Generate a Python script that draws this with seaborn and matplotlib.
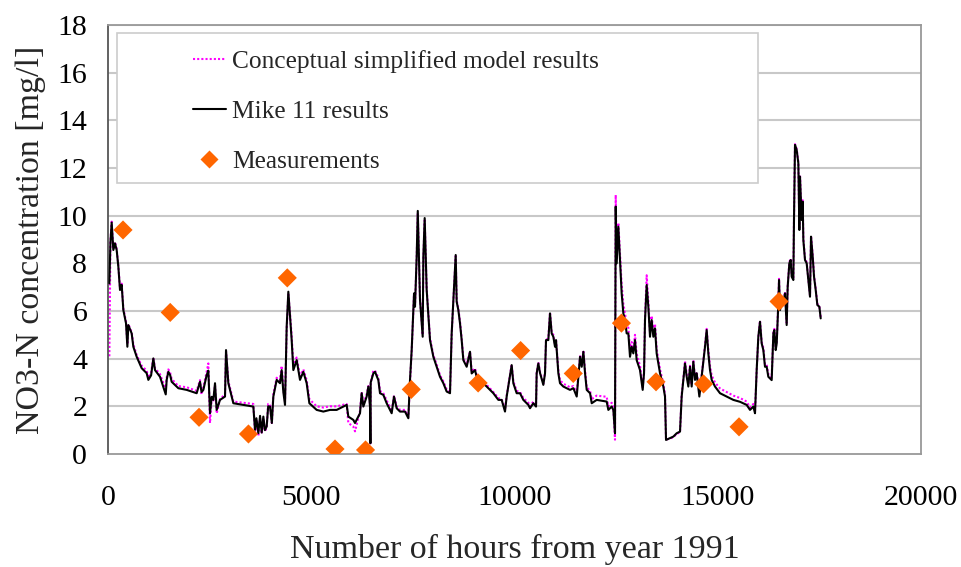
import numpy as np
import pandas as pd
import seaborn as sns
import matplotlib.pyplot as plt
from matplotlib.patches import Rectangle
from matplotlib.lines import Line2D

# hours from start of 1991
hours = [
    33, 60, 90, 131, 172, 213, 254, 295, 336, 377, 443, 476, 500, 582, 623, 705, 828, 951, 992, 1060,
    1115, 1156, 1279, 1420, 1443, 1484, 1530, 1566, 1730, 1935, 2181, 2263, 2300, 2345, 2427, 2468, 2509, 2550, 2591, 2632,
    2673, 2755, 2878, 2903, 2960, 3042, 3083, 3329, 3575, 3616, 3650, 3698, 3740, 3780, 3821, 3860, 3903, 3940, 3985, 4030,
    4067, 4149, 4231, 4272, 4313, 4354, 4395, 4436, 4477, 4518, 4559, 4641, 4723, 4805, 4887, 4953, 5133, 5297, 5461, 5625,
    5871, 5912, 6035, 6076, 6199, 6240, 6281, 6363, 6404, 6445, 6455, 6462, 6527, 6568, 6650, 6691, 6773, 6855, 6978, 7035,
    7101, 7183, 7306, 7388, 7429, 7470, 7528, 7552, 7593, 7620, 7675, 7741, 7757, 7790, 7839, 7921, 8003, 8085, 8167, 8249,
    8331, 8413, 8454, 8495, 8553, 8577, 8618, 8659, 8700, 8741, 8823, 8905, 8946, 9028, 9069, 9151, 9315, 9479, 9602, 9684,
    9766, 9807, 9930, 9971, 10053, 10135, 10217, 10340, 10381, 10463, 10529, 10545, 10586, 10627, 10709, 10750, 10775, 10832, 10873, 10914,
    10955, 10996, 11021, 11078, 11119, 11201, 11365, 11448, 11530, 11612, 11653, 11694, 11735, 11776, 11858, 11899, 12021, 12267, 12308, 12390,
    12431, 12472, 12489, 12513, 12554, 12595, 12636, 12677, 12718, 12759, 12800, 12841, 12882, 12923, 12964, 13005, 13087, 13153, 13186, 13210,
    13251, 13292, 13333, 13374, 13415, 13456, 13497, 13579, 13661, 13702, 13727, 13907, 13989, 14071, 14112, 14153, 14194, 14235, 14276, 14317,
    14358, 14399, 14440, 14481, 14547, 14604, 14645, 14686, 14727, 14768, 14809, 14850, 14932, 15055, 15219, 15383, 15547, 15711, 15793, 15875,
    15916, 15957, 15998, 16039, 16080, 16121, 16162, 16203, 16244, 16326, 16368, 16392, 16425, 16450, 16490, 16507, 16531, 16572, 16613, 16654,
    16695, 16720, 16761, 16794, 16818, 16859, 16876, 16900, 16941, 16982, 17007, 17023, 17064, 17089, 17105, 17146, 17187, 17228, 17269, 17294,
    17335, 17368, 17409, 17450, 17499, 17532,
]

mike11 = [
    7.16, 8.9, 9.71, 8.56, 8.84, 8.56, 7.86, 6.88, 7.1, 6.04, 5.48, 4.5, 5.41, 5.06, 4.5, 4.08, 3.6, 3.39, 3.11, 3.3,
    4.01, 3.52, 3.24, 2.5, 3.11, 3.45, 3.3, 3.03, 2.76, 2.69, 2.55, 3.03, 2.6, 2.69, 3.31, 3.5, 1.71, 2.4, 2.27, 2.97,
    1.85, 2.27, 2.41, 4.36, 2.97, 2.41, 2.13, 2.06, 1.99, 1.01, 1.5, 0.87, 1.6, 0.9, 1.57, 1.0, 1.15, 2.0, 1.99, 1.3,
    2.41, 3.11, 2.97, 3.52, 2.6, 2.06, 5.34, 6.81, 5.76, 4.78, 3.52, 3.94, 3.11, 3.45, 2.97, 2.13, 1.85, 1.78, 1.85, 1.85,
    2.06, 1.57, 1.43, 1.3, 1.71, 2.55, 1.99, 2.41, 2.83, 1.99, 0.45, 3.0, 3.38, 3.45, 3.1, 2.55, 2.48, 2.13, 1.71, 2.41,
    1.92, 1.78, 1.78, 1.5, 3.11, 4.36, 6.74, 6.18, 8.28, 10.2, 6.46, 4.92, 8.28, 9.9, 6.88, 4.78, 4.08, 3.66, 3.24, 2.97,
    2.62, 2.55, 5.06, 6.39, 8.35, 6.39, 6.04, 5.48, 4.78, 3.94, 3.66, 4.29, 3.38, 3.52, 3.24, 3.1, 2.83, 2.55, 2.27, 2.27,
    1.78, 2.41, 3.73, 2.97, 2.55, 2.55, 2.27, 2.06, 1.92, 2.13, 1.99, 3.38, 3.8, 3.4, 2.9, 3.38, 4.78, 4.78, 5.9, 5.06,
    4.92, 4.5, 4.78, 3.39, 2.97, 2.83, 2.69, 2.76, 2.41, 4.08, 3.66, 4.29, 3.39, 2.69, 2.55, 2.13, 2.27, 2.2, 1.85, 1.99,
    1.85, 0.87, 10.38, 8.0, 9.54, 8.14, 6.74, 5.9, 5.62, 5.06, 5.06, 4.08, 4.5, 4.22, 4.78, 3.94, 3.52, 2.69, 3.39, 5.62,
    7.09, 6.18, 4.92, 5.62, 4.92, 5.27, 4.22, 3.39, 2.83, 2.41, 0.59, 0.73, 0.87, 0.94, 2.41, 3.1, 3.8, 3.25, 2.83, 3.66,
    2.83, 3.87, 3.11, 3.39, 2.41, 3.25, 3.87, 4.5, 5.2, 4.22, 3.52, 3.11, 2.83, 2.55, 2.41, 2.27, 2.19, 2.06, 1.85, 1.99,
    1.71, 3.52, 4.92, 5.55, 4.64, 4.36, 3.66, 3.66, 3.24, 3.1, 5.06, 5.2, 4.36, 4.64, 6.32, 7.3, 6.04, 6.46, 6.32, 6.74,
    5.41, 7.02, 8.0, 8.14, 7.44, 7.3, 9.96, 12.97, 12.76, 12.2, 9.4, 11.64, 9.82, 10.59, 8.98, 8.14, 8.0, 7.3, 6.6, 9.12,
    8.28, 7.44, 6.88, 6.25, 6.18, 5.69,
]

conceptual = [
    4.1, 8.9, 9.75, 8.6, 8.9, 8.6, 7.9, 6.95, 7.15, 6.1, 5.55, 4.6, 5.45, 5.1, 4.6, 4.15, 3.7, 3.5, 3.2, 3.4,
    4.05, 3.6, 3.35, 2.7, 3.2, 3.55, 3.4, 3.15, 2.85, 2.8, 2.65, 3.1, 2.5, 2.8, 3.45, 3.8, 1.3, 2.3, 2.2, 2.9,
    1.7, 2.3, 2.5, 4.3, 3.05, 2.5, 2.2, 2.15, 2.1, 0.9, 1.4, 0.75, 1.5, 0.85, 1.5, 0.95, 1.1, 2.1, 2.05, 1.3,
    2.5, 3.2, 3.1, 3.7, 2.75, 2.2, 5.2, 6.7, 5.9, 4.95, 3.7, 4.05, 3.25, 3.55, 3.1, 2.3, 2.0, 1.95, 2.0, 2.0,
    2.1, 1.3, 1.15, 0.95, 1.8, 2.6, 2.1, 2.5, 2.85, 2.1, 0.45, 3.0, 3.5, 3.5, 3.2, 2.65, 2.55, 2.25, 1.8, 2.45,
    2.0, 1.85, 1.85, 1.55, 3.0, 4.3, 6.7, 6.25, 8.2, 10.1, 6.55, 5.0, 8.2, 9.8, 6.95, 4.85, 4.15, 3.75, 3.3, 3.05,
    2.7, 2.6, 5.0, 6.45, 8.3, 6.45, 6.1, 5.55, 4.85, 4.0, 3.75, 4.3, 3.45, 3.6, 3.3, 3.15, 2.9, 2.6, 2.35, 2.3,
    1.85, 2.45, 3.75, 3.05, 2.65, 2.6, 2.35, 2.15, 2.0, 2.2, 2.05, 3.4, 3.85, 3.45, 2.95, 3.4, 4.8, 4.85, 5.95, 5.1,
    5.0, 4.6, 4.8, 3.5, 3.1, 2.95, 2.8, 2.85, 2.55, 4.1, 3.75, 4.35, 3.5, 2.8, 2.65, 2.3, 2.45, 2.4, 2.0, 2.15,
    1.95, 0.6, 10.87, 8.2, 9.7, 8.4, 7.1, 6.3, 5.9, 5.4, 5.3, 4.4, 4.7, 4.4, 5.0, 4.2, 3.7, 2.8, 3.4, 5.7,
    7.5, 6.4, 5.1, 5.8, 5.1, 5.45, 4.4, 3.55, 2.95, 2.5, 0.6, 0.7, 0.85, 0.9, 2.5, 3.15, 3.9, 3.35, 2.9, 3.7,
    2.9, 3.95, 3.2, 3.45, 2.55, 3.3, 3.95, 4.55, 5.25, 4.35, 3.7, 3.3, 3.0, 2.75, 2.6, 2.45, 2.35, 2.2, 1.95, 2.1,
    1.8, 3.5, 4.9, 5.6, 4.7, 4.45, 3.75, 3.75, 3.35, 3.2, 5.1, 5.25, 4.45, 4.7, 6.35, 7.35, 6.1, 6.5, 6.4, 6.8,
    5.5, 7.05, 8.05, 8.2, 7.5, 7.35, 10.0, 13.0, 12.8, 12.25, 9.5, 11.7, 9.9, 10.65, 9.05, 8.2, 8.05, 7.35, 6.65, 9.15,
    8.35, 7.5, 6.95, 6.3, 6.2, 5.75,
]

meas_hours = [369, 1530, 2239, 3455, 4410, 5584, 6335, 7460, 9105, 10150, 11445, 12630, 13481, 14650, 15523, 16507]
meas_no3 = [9.40, 5.94, 1.54, 0.84, 7.39, 0.21, 0.17, 2.71, 2.98, 4.34, 3.38, 5.49, 3.03, 2.94, 1.14, 6.40]

sns.set_theme(style="white")
plt.rcParams['font.family'] = ['Liberation Serif', 'DejaVu Serif']

df = pd.DataFrame({"hours": hours, "mike11": mike11, "conceptual": conceptual})
meas = pd.DataFrame({"hours": meas_hours, "no3": meas_no3})

fig = plt.figure(figsize=(9.61, 5.67), dpi=100)
ax = fig.add_axes([0.1124, 0.1993, 0.846, 0.7566])

grid_col = "#c8c8c8"
for yv in range(2, 20, 2):
    ax.axhline(yv, color=grid_col, lw=1.5, zorder=0)

sns.lineplot(data=df, x="hours", y="conceptual", ax=ax, color="#ff00ff", lw=1.5,
             linestyle=(0, (1, 1)), sort=False, estimator=None, zorder=2)
sns.lineplot(data=df, x="hours", y="mike11", ax=ax, color="black", lw=1.5,
             sort=False, estimator=None, zorder=3)
sns.scatterplot(data=meas, x="hours", y="no3", ax=ax, marker="D", s=95,
                color="#ff6600", edgecolor="none", zorder=4)

ax.set_xlim(0, 20000)
ax.set_ylim(0, 18)
ax.set_xticks([0, 5000, 10000, 15000, 20000])
ax.set_yticks(range(0, 20, 2))
ax.tick_params(axis="both", labelsize=21.5, colors="#999999", length=9, width=1.2,
               direction="out", labelcolor="black", pad=6)
ax.tick_params(axis="x", pad=13)
for s in ax.spines.values():
    s.set_color("#999999")
    s.set_linewidth(1.3)
ax.spines["left"].set_color("#555555")

ax.set_xlabel("Number of hours from year 1991", fontsize=24.5, labelpad=17)
ax.set_ylabel("NO3-N concentration [mg/l]", fontsize=24.5, labelpad=8)

# legend box
ax.add_patch(Rectangle((0.011, 0.631), 0.788, 0.35, transform=ax.transAxes,
                       facecolor="white", edgecolor="#cccccc", lw=1.2, zorder=5))
handles = [
    Line2D([], [], color="#ff00ff", lw=1.5, linestyle=(0, (1, 1))),
    Line2D([], [], color="black", lw=1.5),
    Line2D([], [], color="#ff6600", marker="D", markersize=9, linestyle="none", markeredgecolor="none"),
]
labels = ["Conceptual simplified model results", "Mike 11 results", "Measurements"]
leg = ax.legend(handles, labels, loc="upper left", bbox_to_anchor=(0.079, 0.99),
                frameon=False, fontsize=18.3, handlelength=1.3, handletextpad=0.25,
                labelspacing=1.07, borderpad=0.3)
leg.set_zorder(6)

fig.savefig("out.png", dpi=100)
